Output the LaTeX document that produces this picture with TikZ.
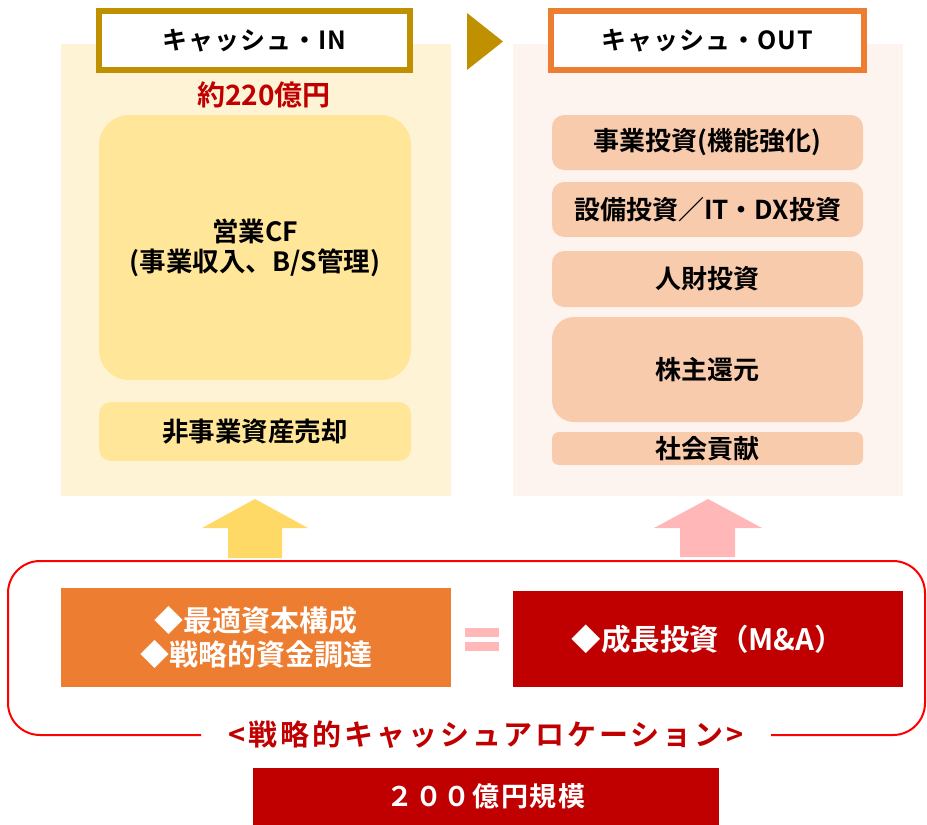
\documentclass[tikz,border=0pt]{standalone}
\usepackage{fontspec}
\setmainfont{Noto Sans CJK JP}[BoldFont={Noto Sans CJK JP Bold}]
\definecolor{gold}{HTML}{BF9000}
\definecolor{orng}{HTML}{ED7D31}
\definecolor{dred}{HTML}{C00000}
\definecolor{bred}{HTML}{FF0000}
\definecolor{panY}{HTML}{FFF3D5}
\definecolor{panP}{HTML}{FEF4EF}
\definecolor{boxY}{HTML}{FFE699}
\definecolor{boxP}{HTML}{F8CBAD}
\definecolor{arrY}{HTML}{FFD966}
\definecolor{pnk}{HTML}{FFB7B7}
\tikzset{
  panel/.style={rectangle,inner sep=0pt,minimum width=390pt,minimum height=452pt},
  titlebox/.style={rectangle,draw,line width=6pt,fill=white,inner sep=0pt,minimum height=59pt,font=\fontsize{25}{28}\selectfont\bfseries\addfontfeatures{LetterSpace=4}},
  ibox/.style={rectangle,fill=boxY,inner sep=0pt,minimum width=312pt,align=center,font=\fontsize{26.5}{30}\selectfont\bfseries},
  obox/.style={rectangle,fill=boxP,inner sep=0pt,minimum width=311pt,align=center,font=\fontsize{26}{30}\selectfont\bfseries},
  bigbox/.style={rectangle,inner sep=0pt,align=center,text=white,font=\fontsize{29.5}{35}\selectfont\bfseries},
}
\begin{document}
\begin{tikzpicture}[x=1pt,y=-1pt]
\useasboundingbox (0,0) rectangle (927,825);
% panels
\node[panel,fill=panY] (lpanel) at (256,270) {};
\node[panel,fill=panP] (rpanel) at (708,270) {};
% titles
\node[titlebox,draw=gold,minimum width=311pt] (intitle) at (254.5,40.5) {キャッシュ・IN};
\node[titlebox,draw=orng,minimum width=313pt] (outtitle) at (707.5,40.5) {キャッシュ・OUT};
\fill[gold] (467,13) -- (467,70) -- (503,41.5) -- cycle;
\node[text=dred,font=\fontsize{28}{32}\selectfont\bfseries] (amount) at (264,95) {約220億円};
% left boxes
\node[ibox,minimum height=265pt,rounded corners=30pt] (cf) at (255,247.5) {営業CF\\(事業収入、B/S管理)};
\node[ibox,minimum height=59pt,rounded corners=12pt] (sale) at (255,431.5) {非事業資産売却};
% right boxes
\node[obox,minimum height=55pt,rounded corners=12pt] (o1) at (707.5,142.5) {事業投資(機能強化)};
\node[obox,minimum height=55pt,rounded corners=12pt] (o2) at (707.5,209.5) {設備投資／IT・DX投資};
\node[obox,minimum height=56pt,rounded corners=12pt] (o3) at (707.5,279) {人財投資};
\node[obox,minimum height=105pt,rounded corners=22pt] (o4) at (707.5,369.5) {株主還元};
\node[obox,minimum height=33pt,rounded corners=7pt] (o5) at (707.5,448.5) {社会貢献};
% arrows
\fill[arrY] (228,558) -- (228,528) -- (202,528) -- (255,499) -- (308,528) -- (282,528) -- (282,558) -- cycle;
\fill[pnk] (680,557) -- (680,528) -- (654,528) -- (708,499) -- (762,528) -- (735,528) -- (735,557) -- cycle;
% red frame
\draw[bred,line width=2pt] (201,735) -- (40,735) arc[start angle=90,end angle=180,radius=32]
  -- (8,593) arc[start angle=180,end angle=270,radius=32] -- (893,561)
  arc[start angle=-90,end angle=0,radius=32] -- (925,703)
  arc[start angle=0,end angle=90,radius=32] -- (771,735);
% bottom boxes
\node[bigbox,fill=orng,minimum width=390pt,minimum height=99pt,font=\fontsize{29}{34}\selectfont\bfseries] (opt) at (256,637.5) {◆最適資本構成\\◆戦略的資金調達};
\node[bigbox,fill=dred,minimum width=390pt,minimum height=96pt] (ma) at (708,639) {◆成長投資（M\&A）};
\fill[pnk] (465,628) rectangle (499,637);
\fill[pnk] (465,642) rectangle (499,651);
\node[text=dred,font=\fontsize{29}{32}\selectfont\bfseries\addfontfeatures{LetterSpace=10}] (alloc) at (486,735) {<戦略的キャッシュアロケーション>};
\node[bigbox,fill=dred,minimum width=466pt,minimum height=57pt,font=\fontsize{27}{30}\selectfont\bfseries\addfontfeatures{LetterSpace=6}] (scale) at (486,796.5) {２００億円規模};
\end{tikzpicture}
\end{document}
